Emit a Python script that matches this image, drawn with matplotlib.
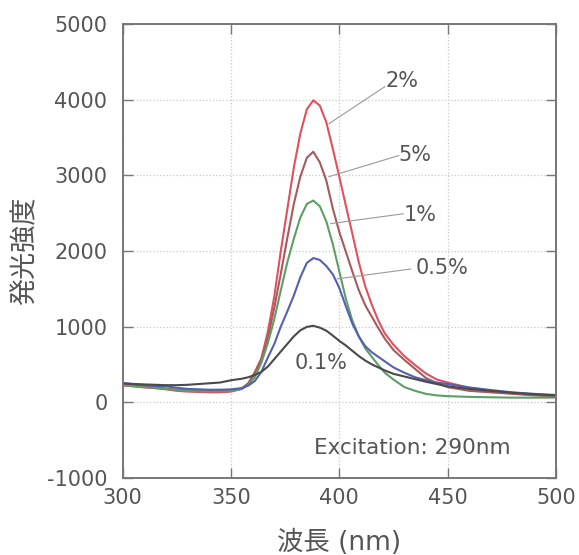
import numpy as np
import matplotlib
matplotlib.use("Agg")
import matplotlib.pyplot as plt

plt.rcParams['font.family'] = ['DejaVu Sans', 'Noto Sans CJK JP']
plt.rcParams['axes.unicode_minus'] = False

# wavelength (nm)
wl = [300, 305, 310, 315, 320, 325, 330, 335, 340, 345, 350, 355, 358, 361, 364, 367,
      370, 373, 376, 379, 382, 385, 388, 391, 394, 397, 400, 403, 406, 409, 412, 415,
      418, 421, 425, 430, 435, 440, 445, 450, 460, 470, 480, 490, 500]

# emission intensity
c_2 = [220, 210, 195, 185, 170, 150, 140, 135, 130, 130, 140, 175, 250, 400, 580, 930,
       1400, 2000, 2550, 3100, 3550, 3870, 3990, 3920, 3700, 3350, 2980, 2600, 2230, 1850, 1530, 1290,
       1080, 910, 760, 610, 490, 380, 300, 260, 190, 150, 120, 100, 80]
c_5 = [240, 220, 205, 195, 180, 165, 155, 150, 150, 150, 155, 185, 250, 380, 560, 850,
       1250, 1700, 2170, 2620, 2980, 3230, 3310, 3170, 2930, 2560, 2250, 1990, 1730, 1480, 1280, 1130,
       980, 840, 690, 560, 440, 320, 250, 200, 150, 130, 110, 90, 75]
c_1 = [230, 210, 200, 190, 175, 160, 150, 145, 145, 145, 150, 175, 230, 330, 520, 780,
       1100, 1480, 1850, 2160, 2440, 2620, 2665, 2590, 2390, 2090, 1730, 1370, 1080, 870, 710, 600,
       490, 390, 300, 200, 150, 110, 90, 80, 70, 65, 60, 60, 60]
c_05 = [250, 240, 225, 215, 210, 190, 175, 170, 165, 165, 170, 185, 220, 280, 400, 590,
        770, 1000, 1200, 1410, 1650, 1840, 1905, 1880, 1800, 1690, 1510, 1270, 1040, 870, 740, 660,
        600, 540, 460, 390, 330, 290, 260, 240, 195, 160, 130, 110, 95]
c_01 = [250, 240, 235, 230, 225, 225, 230, 240, 250, 260, 290, 310, 330, 360, 400, 470,
        570, 670, 770, 870, 950, 995, 1010, 985, 945, 880, 810, 750, 680, 610, 550, 500,
        460, 420, 375, 340, 305, 270, 240, 210, 175, 150, 125, 105, 90]

series = [c_2, c_5, c_1, c_05, c_01]
colors = ['#e0505e', '#a85a5a', '#5e9e66', '#5560b0', '#4a4a4a']

# label text, text position, leader start on curve, leader end
labels = ['2%', '5%', '1%', '0.5%', '0.1%']
label_xy = [(429, 4240), (435, 3270), (437.5, 2470), (447.5, 1770), (391.5, 520)]
leader_from = [(395.2, 3680), (395.2, 2980), (396, 2360), (399, 1630), None]
leader_to = [(421, 4170), (427.5, 3260), (429.5, 2490), (433, 1760), None]

gray = '#555555'
fig = plt.figure(figsize=(5.79, 5.55), dpi=100)
ax = fig.add_axes([0.212, 0.139, 0.748, 0.818])

for y, c in zip(series, colors):
    ax.plot(wl, y, color=c, lw=1.5)

for lab, pos, a, b in zip(labels, label_xy, leader_from, leader_to):
    ax.text(pos[0], pos[1], lab, ha='center', va='center', fontsize=15, color=gray)
    if a is not None:
        ax.plot([a[0], b[0]], [a[1], b[1]], color='#999999', lw=0.8)

ax.text(433.5, -600, 'Excitation: 290nm', ha='center', va='center', fontsize=15.5, color=gray)

ax.set_xlim(300, 500)
ax.set_ylim(-1000, 5000)
ax.set_xticks([300, 350, 400, 450, 500])
ax.set_yticks([-1000, 0, 1000, 2000, 3000, 4000, 5000])
ax.grid(True, ls=':', color='#c8c8c8', lw=0.9)
ax.tick_params(direction='in', length=7, width=1, colors='#777777', labelcolor=gray,
               labelsize=15, top=True, right=True)
ax.tick_params(axis='x', pad=7)
ax.tick_params(axis='y', pad=11)
for s in ax.spines.values():
    s.set_color('#777777')
    s.set_linewidth(1.4)

ax.set_xlabel('波長 (nm)', fontsize=19, color=gray, labelpad=16)
ax.set_ylabel('発光強度', fontsize=19.5, color=gray, labelpad=6)

fig.savefig('out.png', dpi=100)
